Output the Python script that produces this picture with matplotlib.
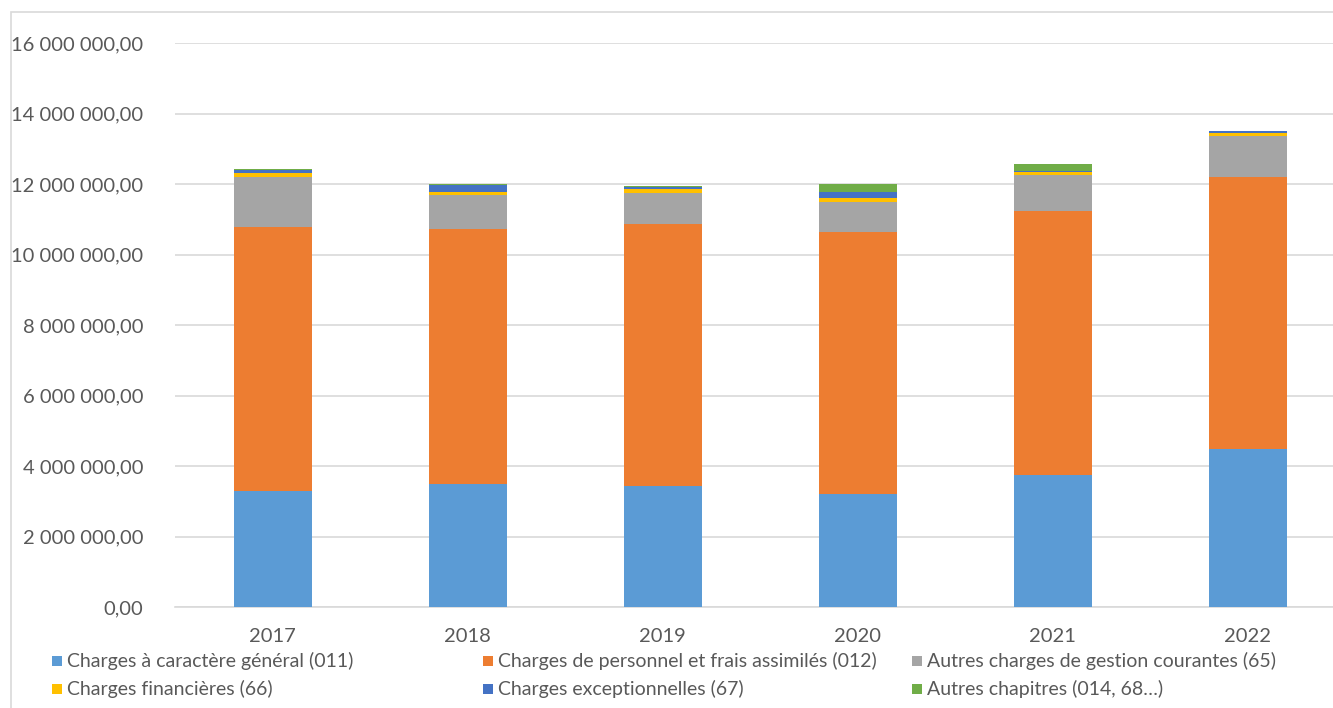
import matplotlib.pyplot as plt
from matplotlib.patches import Rectangle
from matplotlib.ticker import FuncFormatter
import numpy as np

years = ["2017", "2018", "2019", "2020", "2021", "2022"]

# values in euros
charges_generales = [3290000, 3490000, 3430000, 3210000, 3740000, 4480000]
charges_personnel = [7490000, 7230000, 7440000, 7430000, 7490000, 7720000]
autres_gestion = [1430000, 970000, 880000, 860000, 1030000, 1170000]
charges_financieres = [90000, 90000, 110000, 90000, 90000, 70000]
charges_exceptionnelles = [110000, 200000, 60000, 180000, 30000, 70000]
autres_chapitres = [20000, 20000, 30000, 240000, 190000, 5000]

labels = [
    "Charges à caractère général (011)",
    "Charges de personnel et frais assimilés (012)",
    "Autres charges de gestion courantes (65)",
    "Charges financières (66)",
    "Charges exceptionnelles (67)",
    "Autres chapitres (014, 68…)",
]
colors = ["#5B9BD5", "#ED7D31", "#A5A5A5", "#FFC000", "#4472C4", "#70AD47"]

plt.rcParams['font.family'] = ['Liberation Sans Narrow', 'Lato', 'DejaVu Sans']

W, H = 1333, 708
fig = plt.figure(figsize=(W / 100, H / 100), dpi=100)

# chart frame (runs off the right and bottom edge)
fig.patches.append(Rectangle((11 / W, -0.1), 1.2, 1 - 12 / H + 0.1,
                             transform=fig.transFigure, fill=False,
                             edgecolor="#D9D9D9", linewidth=1.2))

ax = fig.add_axes([175 / W, 101 / H, (W - 175) / W, (607 - 43) / H])

series = [charges_generales, charges_personnel, autres_gestion,
          charges_financieres, charges_exceptionnelles, autres_chapitres]
x = np.arange(len(years))
bottom = np.zeros(len(years))
for vals, col in zip(series, colors):
    ax.bar(x, vals, width=0.4, bottom=bottom, color=col, linewidth=0, zorder=3)
    bottom += np.array(vals)

ax.set_xlim(-0.5, -0.5 + (W - 175.5) / 195)
ax.set_ylim(0, 16000000)
ax.set_yticks(np.arange(0, 16000001, 2000000))
ax.yaxis.set_major_formatter(FuncFormatter(
    lambda v, p: "{:,.2f}".format(v).replace(",", " ").replace(".", ",")))
ax.set_xticks(x)
ax.set_xticklabels(years)
ax.grid(axis="y", color="#D9D9D9", linewidth=1.2, zorder=0)
for s in ["top", "right", "left"]:
    ax.spines[s].set_visible(False)
ax.spines["bottom"].set_color("#D9D9D9")
ax.spines["bottom"].set_linewidth(1.2)
ax.tick_params(axis="both", length=0, labelsize=14.5, labelcolor="#595959")
ax.tick_params(axis="y", pad=23)
ax.tick_params(axis="x", pad=15)

# legend, 3 columns x 2 rows
leg_x = [52, 483, 912]
leg_y = [661, 689]
for i, (lab, col) in enumerate(zip(labels, colors)):
    lx = leg_x[i % 3]
    ly = leg_y[i // 3]
    fig.patches.append(Rectangle((lx / W, 1 - (ly + 5) / H), 10 / W, 10 / H,
                                 transform=fig.transFigure, facecolor=col,
                                 edgecolor="none"))
    fig.text((lx + 15) / W, 1 - ly / H, lab, fontsize=14, color="#595959",
             va="center", ha="left")

fig.savefig("out.png", dpi=100)
